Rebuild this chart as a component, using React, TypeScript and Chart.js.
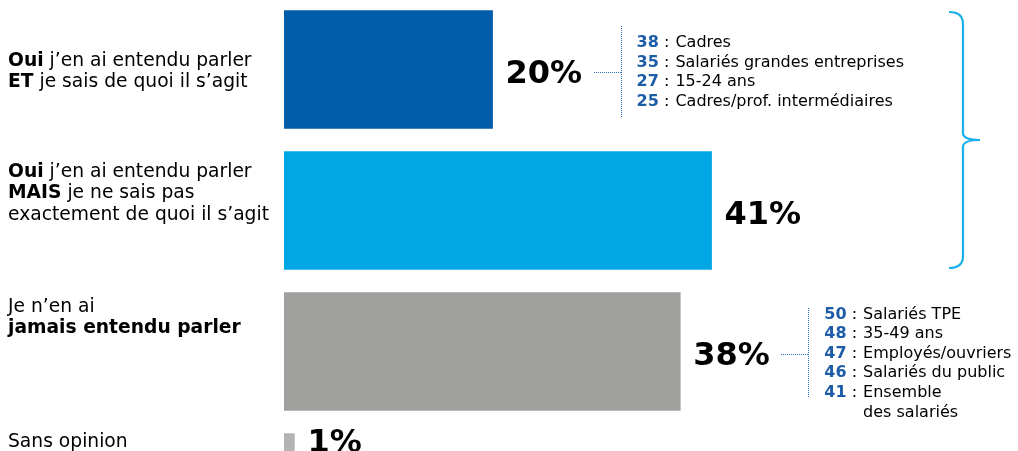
import React, { useEffect, useRef } from "react";
import { Chart, registerables } from "chart.js";

Chart.register(...registerables);

// ---------- data ----------
const categories = [
  "**Oui** j’en ai entendu parler\n**ET** je sais de quoi il s’agit",
  "**Oui** j’en ai entendu parler\n**MAIS** je ne sais pas\nexactement de quoi il s’agit",
  "Je n’en ai\n**jamais entendu parler**",
  "Sans opinion",
];
const values = [20, 41, 38, 1];
const valueLabels = ["20%", "41%", "38%", "1%"];

const detailValuesA = [38, 35, 27, 25];
const detailLabelsA = ["Cadres", "Salariés grandes entreprises", "15-24 ans", "Cadres/prof. intermédiaires"];
const detailValuesB = [50, 48, 47, 46, 41];
const detailLabelsB = ["Salariés TPE", "35-49 ans", "Employés/ouvriers", "Salariés du public", "Ensemble\ndes salariés"];

// ---------- style / layout ----------
const barColors = ["#005DA9", "#00A7E4", "#A0A09F", "#B3B3B3"];
const FONT = '"DejaVu Sans", Verdana, sans-serif';
const LABEL_SIZE = 18.7;
const LABEL_LINE = 21.5;
const labelFirstOffset = [-4, -34, -40, -46];
const valueBaselineOffset = [13.5, 13.5, 13.5, -40.5];
const VALUE_SIZE = 32;
const DETAIL_SIZE = 16;
const DETAIL_LINE = 19.6;
const NUM_BLUE = "#1D5DA8";
const DOT_BLUE = "#2F71C0";
const BRACE_BLUE = "#1BB0EB";

const callouts = [
  { bar: 0, nums: detailValuesA, labels: detailLabelsA, firstOffset: -22.5, top: -44, bottom: 48 },
  { bar: 2, nums: detailValuesB, labels: detailLabelsB, firstOffset: -33, top: -44, bottom: 46 },
];

function drawRich(ctx: CanvasRenderingContext2D, line: string, x: number, y: number, size: number, color: string) {
  const parts = line.split("**");
  let cx = x;
  ctx.fillStyle = color;
  parts.forEach((p, i) => {
    if (!p) return;
    ctx.font = `${i % 2 === 1 ? "bold " : ""}${size}px ${FONT}`;
    ctx.fillText(p, cx, y);
    cx += ctx.measureText(p).width;
  });
}

const overlayPlugin = {
  id: "overlay",
  afterDatasetsDraw(chart: any) {
    const ctx: CanvasRenderingContext2D = chart.ctx;
    const meta = chart.getDatasetMeta(0);
    ctx.save();
    ctx.textAlign = "left";
    ctx.textBaseline = "alphabetic";
    const bars = meta.data.map((b: any) => b.getProps(["x", "y", "base", "height"], true));

    // left category labels
    categories.forEach((cat, i) => {
      const b = bars[i];
      cat.split("\n").forEach((line, j) => {
        drawRich(ctx, line, 8, b.y + labelFirstOffset[i] + j * LABEL_LINE, LABEL_SIZE, "#000");
      });
    });

    // value labels
    valueLabels.forEach((t, i) => {
      const b = bars[i];
      ctx.font = `bold ${VALUE_SIZE}px ${FONT}`;
      ctx.fillStyle = "#000";
      ctx.fillText(t, b.x + 13, b.y + valueBaselineOffset[i]);
    });

    // callouts
    callouts.forEach((c) => {
      const b = bars[c.bar];
      const x0 = Math.round(b.x + 101);
      const xv = Math.round(b.x + 128) + 0.5;
      const xt = b.x + 144;
      const yc = Math.round(b.y + 2) + 0.5;
      ctx.save();
      ctx.strokeStyle = DOT_BLUE;
      ctx.lineWidth = 1;
      ctx.setLineDash([1, 1]);
      ctx.beginPath();
      ctx.moveTo(x0, yc);
      ctx.lineTo(xv, yc);
      ctx.stroke();
      ctx.beginPath();
      ctx.moveTo(xv, Math.round(b.y + c.top));
      ctx.lineTo(xv, Math.round(b.y + c.bottom));
      ctx.stroke();
      ctx.restore();
      let row = 0;
      c.nums.forEach((n, k) => {
        const y = b.y + c.firstOffset + row * DETAIL_LINE;
        ctx.font = `bold ${DETAIL_SIZE}px ${FONT}`;
        ctx.fillStyle = NUM_BLUE;
        const ns = String(n);
        ctx.fillText(ns, xt, y);
        const nw = ctx.measureText(ns).width;
        ctx.font = `${DETAIL_SIZE}px ${FONT}`;
        ctx.fillStyle = "#000";
        const sep = " : ";
        ctx.fillText(sep, xt + nw, y);
        const lx = xt + nw + ctx.measureText(sep).width + 1;
        c.labels[k].split("\n").forEach((ln, m) => {
          ctx.fillText(ln, lx, y + m * DETAIL_LINE);
          if (m > 0) row++;
        });
        row++;
      });
    });

    // brace grouping bars 0 and 1
    const top = bars[0].y - bars[0].height / 2 + 1.5;
    const bottom = bars[1].y + bars[1].height / 2 - 1.5;
    const mid = (top + bottom) / 2;
    const xe = 949, xb = 963, xtip = 980, r = 12;
    ctx.strokeStyle = BRACE_BLUE;
    ctx.lineWidth = 2.2;
    ctx.setLineDash([]);
    ctx.beginPath();
    ctx.moveTo(xe, top);
    ctx.quadraticCurveTo(xb, top, xb, top + r);
    ctx.lineTo(xb, mid - 7);
    ctx.quadraticCurveTo(xb, mid, xtip, mid);
    ctx.quadraticCurveTo(xb, mid, xb, mid + 7);
    ctx.lineTo(xb, bottom - r);
    ctx.quadraticCurveTo(xb, bottom, xe, bottom);
    ctx.stroke();
    ctx.restore();
  },
};

export default function App() {
  const ref = useRef<HTMLCanvasElement>(null);
  useEffect(() => {
    if (!ref.current) return;
    const chart = new Chart(ref.current, {
      type: "bar",
      data: {
        labels: categories.map((c) => c.replace(/\*\*/g, "").replace(/\n/g, " ")),
        datasets: [
          {
            data: values,
            backgroundColor: barColors,
            borderWidth: 0,
            barThickness: 118,
          },
        ],
      },
      options: {
        indexAxis: "y",
        responsive: false,
        animation: false,
        devicePixelRatio: 1,
        layout: { padding: { left: 284, right: 4, top: 0, bottom: 0 } },
        scales: {
          x: { display: false, min: 0, max: 70 },
          y: { display: false },
        },
        plugins: { legend: { display: false }, tooltip: { enabled: false } },
      },
      plugins: [overlayPlugin],
    } as any);
    return () => chart.destroy();
  }, []);
  return (
    <div style={{ position: "fixed", left: 0, top: 0, width: 1018, height: 451, overflow: "hidden", background: "#fff" }}>
      <canvas
        ref={ref}
        width={1018}
        height={564}
        style={{ position: "absolute", left: 0, top: -1, width: 1018, height: 564 }}
      />
    </div>
  );
}
